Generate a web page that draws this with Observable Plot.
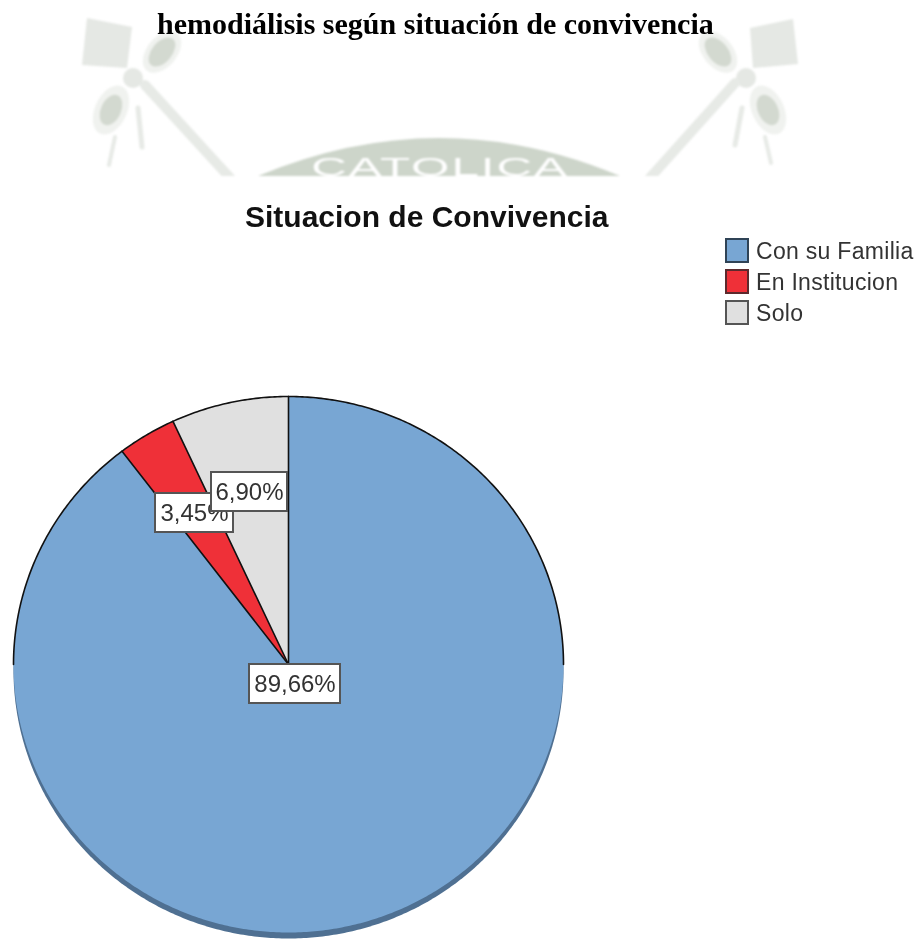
<!DOCTYPE html>
<html lang="es">
<head>
<meta charset="utf-8">
<title>Situacion de Convivencia</title>
<script src="https://cdn.jsdelivr.net/npm/d3@7"></script>
<script src="https://cdn.jsdelivr.net/npm/@observablehq/plot@0.6"></script>
<style>
  html, body { margin: 0; padding: 0; background: #fff; }
  #page { position: relative; width: 920px; height: 940px; overflow: hidden; filter: blur(.35px); }
  #mark { position: absolute; left: 0; top: 0; filter: blur(.8px); }
  #heading { position: absolute; left: 157px; top: 6px; margin: 0; white-space: nowrap;
    font: bold 30px/36px "Liberation Serif", serif; color: #000; }
  #title { position: absolute; left: 245px; top: 198px; white-space: nowrap;
    font: bold 30px/38px "Liberation Sans", sans-serif; color: #111; }
  #legend { position: absolute; left: 725px; top: 238px; }
  .row { position: absolute; left: 0; display: flex; align-items: center; white-space: nowrap;
    font: 23px/24px "Liberation Sans", sans-serif; color: #333; letter-spacing: .3px; }
  .sw { width: 20px; height: 21px; border: 2px solid; margin-right: 7px; box-sizing: content-box; }
  #chart { position: absolute; left: 0; top: 380px; }
  #chart svg { display: block; }
</style>
</head>
<body>
<div id="page">
  <svg id="mark" width="920" height="190" viewBox="0 0 920 190" aria-hidden="true">
    <g fill="#e5e8e4">
      <polygon points="87,18 132,27 127,68 82,65"/>
      <polygon points="750,28 793,19 798,64 753,68"/>
      <circle cx="133" cy="78" r="10"/>
      <circle cx="746" cy="78" r="10"/>
    </g>
    <clipPath id="band"><rect width="920" height="176"/></clipPath>
    <g clip-path="url(#band)">
      <g stroke="#e7eae6" fill="none" stroke-linecap="round">
        <line x1="145" y1="85" x2="232" y2="180" stroke-width="10"/>
        <line x1="735" y1="83" x2="648" y2="180" stroke-width="10"/>
        <line x1="138" y1="108" x2="142" y2="147" stroke-width="5"/>
        <line x1="115" y1="137" x2="109" y2="165" stroke-width="4"/>
        <line x1="742" y1="108" x2="735" y2="145" stroke-width="5"/>
        <line x1="765" y1="137" x2="771" y2="163" stroke-width="4"/>
      </g>
      <path d="M258,176 Q440,100 620,176 Z" fill="#cdd5ca"/>
    </g>
    <g fill="#f0f2ef">
      <ellipse cx="162" cy="52" rx="24" ry="15" transform="rotate(-50 162 52)"/>
      <ellipse cx="111" cy="110" rx="26" ry="16" transform="rotate(-65 111 110)"/>
      <ellipse cx="718" cy="52" rx="24" ry="15" transform="rotate(50 718 52)"/>
      <ellipse cx="768" cy="110" rx="26" ry="16" transform="rotate(65 768 110)"/>
    </g>
    <g fill="#d3d9d0">
      <ellipse cx="162" cy="52" rx="17" ry="10" transform="rotate(-50 162 52)"/>
      <ellipse cx="111" cy="110" rx="16" ry="10" transform="rotate(-65 111 110)"/>
      <ellipse cx="718" cy="52" rx="17" ry="10" transform="rotate(50 718 52)"/>
      <ellipse cx="768" cy="110" rx="16" ry="10" transform="rotate(65 768 110)"/>
    </g>
    <text transform="translate(440 176) scale(1.9 1)" text-anchor="middle" fill="#fff" font-family="Liberation Sans" font-size="26" letter-spacing="1">CATOLICA</text>
  </svg>
  <h1 id="heading">hemodiálisis según situación de convivencia</h1>
  <div id="title">Situacion de Convivencia</div>
  <div id="legend"></div>
  <div id="chart"></div>
</div>
<script>
// Data
const categories = ["Con su Familia", "En Institucion", "Solo"];
const percents = [89.66, 3.45, 6.90];
const percentLabels = ["89,66%", "3,45%", "6,90%"];

// Styles
const colors = ["#78a6d3", "#ef3038", "#e0e0e0"];
const swatchBorders = ["#2f4356", "#5c2a2d", "#555555"];
const shadowColor = "#4f7092";

// Layout of the pie inside the SVG (pixels)
const W = 920, H = 560;
const cx = 288, cy = 284, rx = 275, ry = 268;
const labelBoxes = [[249, 284, 340, 323], [155, 113, 233, 152], [211, 92, 287, 131]];
const drawOrder = [0, 1, 2];

const total = d3.sum(percents);
const turn = v => (v / total) * 2 * Math.PI;
const pt = a => ({x: cx + rx * Math.sin(a), y: cy - ry * Math.cos(a)});
const arc = (a0, a1) => {
  const n = Math.max(2, Math.ceil(Math.abs(a1 - a0) / 0.01));
  return d3.range(n + 1).map(i => pt(a0 + (a1 - a0) * i / n));
};

// Slices run clockwise from twelve o'clock
let acc = 0;
const slices = categories.map((name, i) => {
  const a0 = acc, a1 = acc + turn(percents[i]);
  acc = a1;
  return {name, a0, a1};
});
const slicePoints = slices.flatMap(s =>
  [{x: cx, y: cy}, ...arc(s.a0, s.a1)].map(p => ({...p, name: s.name})));
const rim = arc(0, 2 * Math.PI);
const spokes = slices.flatMap((s, i) => [{x: cx, y: cy, k: i}, {...pt(s.a0), k: i}]);
const upperRim = [
  ...arc(0, Math.PI / 2).map(p => ({...p, k: "r"})),
  ...arc(1.5 * Math.PI, 2 * Math.PI).map(p => ({...p, k: "l"}))
];

const labelMarks = drawOrder.flatMap(i => {
  const [x1, y1, x2, y2] = labelBoxes[i];
  return [
    Plot.rect([{x1, y1, x2, y2}], {x1: "x1", x2: "x2", y1: "y1", y2: "y2", fill: "#fff", stroke: "#555", strokeWidth: 2}),
    Plot.text([percentLabels[i]], {
      x: (x1 + x2) / 2, y: (y1 + y2) / 2, text: d => d,
      fontFamily: "Liberation Sans", fontSize: 24, fill: "#333"
    })
  ];
});

const chart = Plot.plot({
  width: W, height: H, margin: 0,
  style: {background: "transparent"},
  x: {domain: [0, W], range: [0, W], axis: null},
  y: {domain: [0, H], range: [0, H], axis: null},
  color: {domain: categories, range: colors},
  marks: [
    Plot.line(rim, {x: "x", y: "y", fill: shadowColor, stroke: "none", dy: 6}),
    Plot.line(slicePoints, {x: "x", y: "y", z: "name", fill: "name", stroke: "none"}),
    Plot.line(upperRim, {x: "x", y: "y", z: "k", stroke: "#111", strokeWidth: 1.6}),
    Plot.line(spokes, {x: "x", y: "y", z: "k", stroke: "#111", strokeWidth: 1.6}),
    ...labelMarks
  ]
});
document.getElementById("chart").appendChild(chart);

const legend = document.getElementById("legend");
categories.forEach((name, i) => {
  const row = document.createElement("div");
  row.className = "row";
  row.style.top = (i * 31) + "px";
  const sw = document.createElement("span");
  sw.className = "sw";
  sw.style.background = colors[i];
  sw.style.borderColor = swatchBorders[i];
  const label = document.createElement("span");
  label.textContent = name;
  row.append(sw, label);
  legend.appendChild(row);
});
</script>
</body>
</html>
